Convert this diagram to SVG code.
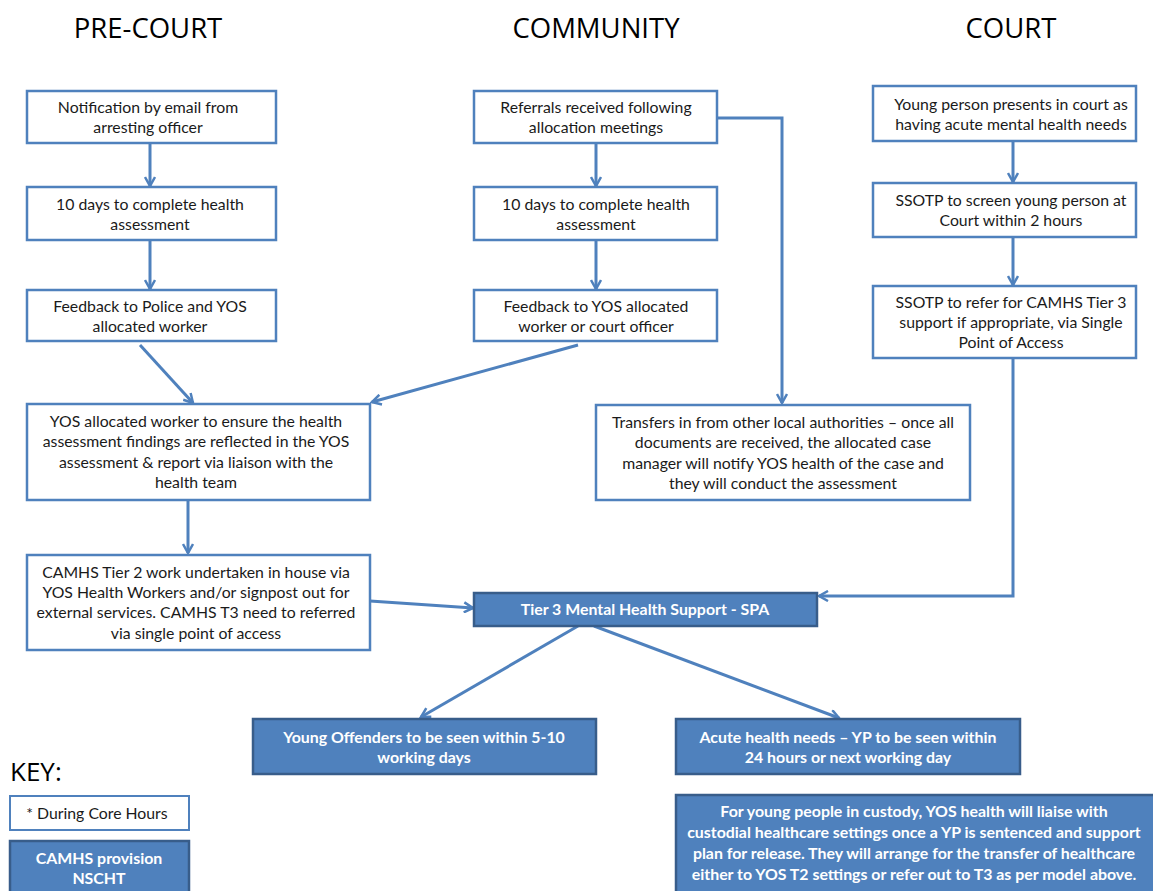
<svg xmlns="http://www.w3.org/2000/svg" width="1153" height="891" viewBox="0 0 1153 891">
<style>
.b{fill:#fff;stroke:#4F81BD;stroke-width:2.5}
.f{fill:#4F81BD;stroke:#385D8A;stroke-width:2.5}
.t{font-family:Lato,"Liberation Sans",sans-serif;font-size:15.8px;fill:#1a1a1a;text-anchor:middle}
.w{font-family:Lato,"Liberation Sans",sans-serif;font-size:15.9px;font-weight:bold;fill:#fff;text-anchor:middle}
.h{font-family:"Open Sans","Liberation Sans",sans-serif;font-size:27.5px;fill:#000;text-anchor:middle}
.c{fill:none;stroke:#4F81BD;stroke-width:3}
</style>
<defs>
<marker id="a" viewBox="0 0 12 12" refX="10" refY="6" markerWidth="12" markerHeight="12" markerUnits="userSpaceOnUse" orient="auto">
<path d="M1,1 L10,6 L1,11" fill="none" stroke="#4F81BD" stroke-width="2.5"/>
</marker>
</defs>
<rect width="1153" height="891" fill="#fff"/>
<g id="headers">
<text class="h" x="148" y="38">PRE-COURT</text>
<text class="h" x="596" y="38">COMMUNITY</text>
<text class="h" x="1011" y="38">COURT</text>
</g>
<g id="connectors">
<path class="c" d="M150,143 V186" marker-end="url(#a)"/>
<path class="c" d="M150,240 V289" marker-end="url(#a)"/>
<path class="c" d="M140,345 L193,403" marker-end="url(#a)"/>
<path class="c" d="M578,345 L372,402" marker-end="url(#a)"/>
<path class="c" d="M596,143 V186" marker-end="url(#a)"/>
<path class="c" d="M596,240 V289" marker-end="url(#a)"/>
<path class="c" d="M717,118 H782 V403" marker-end="url(#a)"/>
<path class="c" d="M1013,141 V182" marker-end="url(#a)"/>
<path class="c" d="M1013,237 V285" marker-end="url(#a)"/>
<path class="c" d="M1013,358 V596 H819" marker-end="url(#a)"/>
<path class="c" d="M188,500 V553" marker-end="url(#a)"/>
<path class="c" d="M370,601 L473,608" marker-end="url(#a)"/>
<path class="c" d="M578,626 L421,717" marker-end="url(#a)"/>
<path class="c" d="M594,626 L839,718" marker-end="url(#a)"/>
</g>
<g id="pc1"><rect class="b" x="27" y="91" width="249" height="52"/>
<text class="t" x="148" y="113">Notification by email from</text><text class="t" x="148" y="133">arresting officer</text></g>
<g id="pc2"><rect class="b" x="27" y="187" width="249" height="53"/>
<text class="t" x="150" y="210">10 days to complete health</text><text class="t" x="150" y="230">assessment</text></g>
<g id="pc3"><rect class="b" x="27" y="290" width="249" height="51"/>
<text class="t" x="150" y="312">Feedback to Police and YOS</text><text class="t" x="150" y="332">allocated worker</text></g>
<g id="pc4"><rect class="b" x="27" y="404" width="343" height="96"/>
<text class="t" x="196" y="427">YOS allocated worker to ensure the health</text><text class="t" x="196" y="447">assessment findings are reflected in the YOS</text><text class="t" x="196" y="468">assessment &amp; report via liaison with the</text><text class="t" x="196" y="488">health team</text></g>
<g id="pc5"><rect class="b" x="27" y="555" width="343" height="95"/>
<text class="t" x="196" y="578">CAMHS Tier 2 work undertaken in house via</text><text class="t" x="196" y="598">YOS Health Workers and/or signpost out for</text><text class="t" x="196" y="618">external services.  CAMHS T3 need to referred</text><text class="t" x="196" y="639">via single point of access</text></g>
<g id="cm1"><rect class="b" x="474" y="91" width="243" height="52"/>
<text class="t" x="596" y="113">Referrals received following</text><text class="t" x="596" y="133">allocation meetings</text></g>
<g id="cm2"><rect class="b" x="474" y="187" width="243" height="53"/>
<text class="t" x="596" y="210">10 days to complete health</text><text class="t" x="596" y="230">assessment</text></g>
<g id="cm3"><rect class="b" x="474" y="290" width="243" height="51"/>
<text class="t" x="596" y="312">Feedback to YOS allocated</text><text class="t" x="596" y="332">worker or court officer</text></g>
<g id="cm4"><rect class="b" x="596" y="405" width="374" height="95"/>
<text class="t" x="783" y="428">Transfers in from other local authorities – once all</text><text class="t" x="783" y="448">documents are received, the allocated case</text><text class="t" x="783" y="469">manager will notify YOS health of the case and</text><text class="t" x="783" y="489">they will conduct the assessment</text></g>
<g id="ct1"><rect class="b" x="873" y="86" width="263" height="55"/>
<text class="t" x="1011" y="110">Young person presents in court as</text><text class="t" x="1011" y="130">having acute mental health needs</text></g>
<g id="ct2"><rect class="b" x="873" y="183" width="263" height="54"/>
<text class="t" x="1011" y="206">SSOTP to screen young person at</text><text class="t" x="1011" y="226">Court within 2 hours</text></g>
<g id="ct3"><rect class="b" x="873" y="286" width="263" height="72"/>
<text class="t" x="1011" y="308">SSOTP to refer  for CAMHS Tier 3</text><text class="t" x="1011" y="328">support if appropriate, via Single</text><text class="t" x="1011" y="348">Point of Access</text></g>
<g id="spa"><rect class="f" x="474" y="593" width="343" height="33"/>
<text class="w" x="645" y="615">Tier 3 Mental Health Support - SPA</text></g>
<g id="yo"><rect class="f" x="253" y="719" width="343" height="55"/>
<text class="w" x="424" y="743">Young Offenders to be seen within 5-10</text><text class="w" x="424" y="763">working days</text></g>
<g id="acute"><rect class="f" x="676" y="719" width="344" height="55"/>
<text class="w" x="848" y="743">Acute health needs – YP to be seen within</text><text class="w" x="848" y="763">24 hours or next working day</text></g>
<g id="custody"><rect class="f" x="676" y="795" width="480" height="100"/>
<text class="w" x="914" y="817">For young people in custody, YOS health will liaise with</text><text class="w" x="914" y="838">custodial healthcare settings once a YP is sentenced and support</text><text class="w" x="914" y="859">plan for release. They will arrange for the transfer of healthcare</text><text class="w" x="914" y="880">either to YOS T2 settings or refer out to T3 as per model above.</text></g>
<g id="key">
<text x="10" y="781" font-family="'Open Sans','Liberation Sans',sans-serif" font-size="26" fill="#000">KEY:</text>
<rect x="10" y="796" width="179" height="34" fill="#fff" stroke="#4F81BD" stroke-width="2"/>
<text class="t" x="97" y="819">* During Core Hours</text>
<rect class="f" x="10" y="841" width="179" height="55"/>
<text class="w" x="99" y="864">CAMHS provision</text><text class="w" x="99" y="884">NSCHT</text>
</g>
</svg>
